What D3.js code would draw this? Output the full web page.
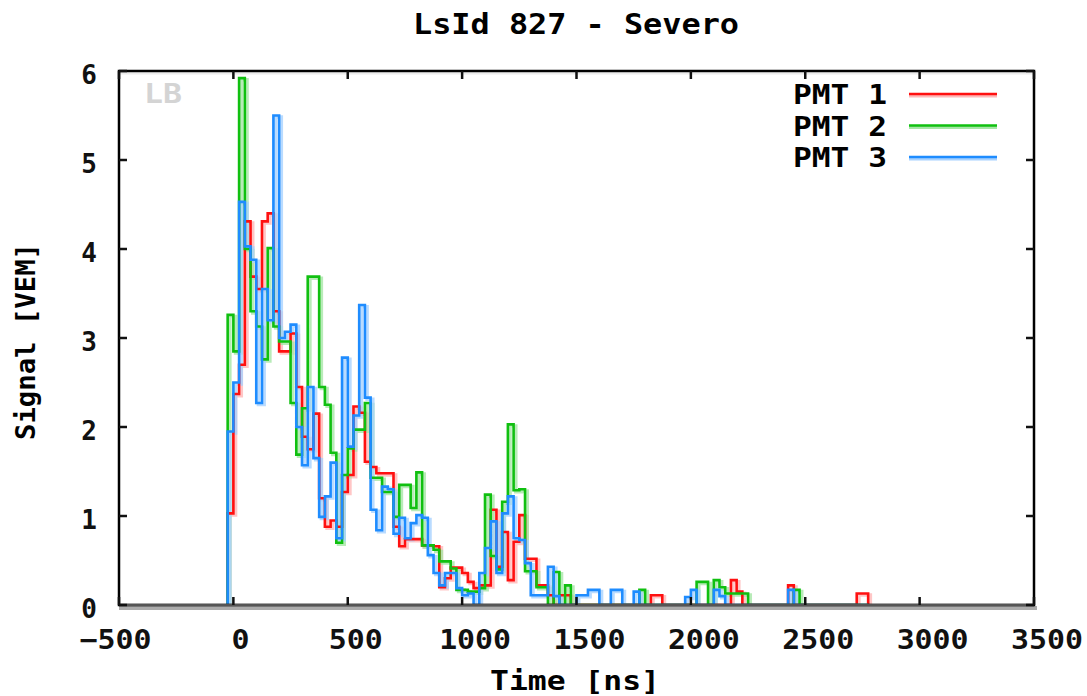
<!DOCTYPE html>
<html>
<head>
<meta charset="utf-8">
<script src="https://cdn.jsdelivr.net/npm/d3@7"></script>
<style>
  body { margin: 0; background: #fff; }
  text { font-family: "DejaVu Sans Mono", "Liberation Mono", monospace; font-weight: bold; }
</style>
</head>
<body>
<svg id="chart" width="1087" height="696"></svg>
<script>
// FADC traces, 25 ns bins starting at -25 ns (signal in VEM)
const binStart = -25;
const binWidth = 25;

const pmt1 = [
  1.03, 2.37, 2.70, 4.31, 3.69, 3.55, 4.31, 4.40, 3.30, 2.85,
  2.85, 3.05, 2.45, 1.89, 1.75, 2.15, 1.20, 0.88, 0.95, 0.88,
  1.27, 1.46, 2.23, 2.16, 1.61, 1.55, 1.48, 1.48, 1.48, 0.88,
  0.66, 0.74, 0.74, 0.74, 0.67, 0.67, 0.66, 0.20, 0.30, 0.42,
  0.42, 0.36, 0.26, 0.19, 0.22, 0.22, 1.07, 0.43, 0.82, 0.28,
  0.71, 1.01, 0.52, 0.52, 0.22, 0.22, 0.11, 0.00, 0.11, 0.11,
  0, 0, 0, 0, 0, 0, 0, 0, 0, 0,
  0, 0, 0, 0, 0.11, 0.11, 0, 0, 0, 0,
  0, 0, 0, 0, 0, 0, 0, 0, 0.28, 0.15,
  0, 0, 0, 0, 0, 0, 0, 0, 0.22, 0,
  0, 0, 0, 0, 0, 0, 0, 0, 0, 0,
  0.13, 0.13
];

const pmt2 = [
  3.26, 2.85, 5.92, 4.00, 3.30, 3.13, 2.76, 4.01, 3.13, 2.96,
  2.96, 2.27, 1.69, 2.21, 3.69, 3.69, 2.45, 2.25, 1.71, 0.70,
  1.46, 1.76, 1.97, 1.97, 2.27, 1.43, 1.43, 1.27, 1.27, 0.99,
  1.35, 1.35, 1.09, 1.49, 0.67, 0.67, 0.62, 0.49, 0.49, 0.41,
  0.17, 0.17, 0.15, 0.15, 0.19, 1.24, 0.55, 0.40, 1.16, 2.03,
  1.29, 1.30, 0.38, 0.38, 0.20, 0.20, 0.00, 0.37, 0.00, 0.22,
  0, 0, 0, 0, 0, 0, 0, 0, 0, 0,
  0, 0, 0.17, 0, 0, 0, 0, 0, 0, 0,
  0, 0, 0.26, 0.26, 0, 0.28, 0.20, 0.13, 0.13, 0.13,
  0.13, 0, 0, 0, 0, 0, 0, 0, 0, 0.17,
  0, 0, 0, 0, 0, 0, 0, 0, 0, 0,
  0, 0
];

const pmt3 = [
  1.95, 2.50, 4.53, 4.03, 3.88, 2.27, 3.55, 3.20, 5.50, 3.00,
  3.07, 3.15, 2.00, 1.57, 2.45, 1.65, 0.99, 1.22, 1.60, 0.75,
  2.78, 1.78, 2.13, 3.37, 2.33, 1.07, 0.84, 1.33, 1.30, 0.80,
  0.98, 0.75, 0.92, 1.01, 0.98, 0.56, 0.36, 0.22, 0.36, 0.36,
  0.19, 0.11, 0.13, 0.00, 0.36, 0.64, 0.94, 0.36, 1.03, 1.22,
  0.75, 0.73, 0.47, 0.11, 0.11, 0.11, 0.43, 0.10, 0.00, 0.00,
  0.00, 0.11, 0.11, 0.17, 0.17, 0.00, 0.00, 0.17, 0.17, 0.00,
  0.00, 0.15, 0, 0, 0, 0, 0, 0, 0, 0,
  0.09, 0.17, 0, 0, 0, 0.17, 0.10, 0, 0, 0,
  0, 0, 0, 0, 0, 0, 0, 0, 0.17, 0,
  0, 0, 0, 0, 0, 0, 0, 0, 0, 0,
  0, 0
];

const seriesNames = ["PMT 1", "PMT 2", "PMT 3"];
const seriesColors = ["#ff1010", "#10c010", "#1e8cff"];
const seriesHalo = ["#ffb8b8", "#a6e6a6", "#a8d2ff"];
const xTicks = [-500, 0, 500, 1000, 1500, 2000, 2500, 3000, 3500];
const yTicks = [0, 1, 2, 3, 4, 5, 6];
const chartTitle = "LsId 827 - Severo";
const xTitle = "Time [ns]";
const yTitle = "Signal [VEM]";
const stationTag = "LB";

const svg = d3.select("#chart");
const x = d3.scaleLinear().domain([-500, 3500]).range([119, 1034]);
const y = d3.scaleLinear().domain([0, 6]).range([605, 71]);

// step path: rise from zero at the first bin edge, fall back to zero after the last
function stepPoints(vals) {
  const pts = [{ t: binStart, v: 0 }];
  vals.forEach((v, i) => pts.push({ t: binStart + i * binWidth, v }));
  pts.push({ t: binStart + vals.length * binWidth, v: 0 });
  return pts;
}
const line = d3.line().x(d => x(d.t)).y(d => y(d.v)).curve(d3.curveStepAfter);
const traces = [pmt1, pmt2, pmt3];

const plot = svg.append("g");
// soft halo beside each trace
traces.forEach((vals, k) => {
  plot.append("path").datum(stepPoints(vals))
    .attr("d", line)
    .attr("fill", "none")
    .attr("stroke", seriesHalo[k])
    .attr("stroke-width", 3.5)
    .attr("stroke-opacity", 0.8)
    .attr("transform", "translate(2.2,1.6)");
});
traces.forEach((vals, k) => {
  plot.append("path").datum(stepPoints(vals))
    .attr("d", line)
    .attr("fill", "none")
    .attr("stroke", seriesColors[k])
    .attr("stroke-width", 2.6)
    .attr("stroke-linejoin", "miter");
});

// frame with grey drop shadow
const x0 = x.range()[0], x1 = x.range()[1], yTop = y.range()[1], yBot = y.range()[0];
svg.append("line").attr("x1", x0).attr("x2", x1 + 3).attr("y1", yBot + 3).attr("y2", yBot + 3)
  .attr("stroke", "#ababab").attr("stroke-width", 4);
svg.append("line").attr("x1", x0).attr("x2", x1).attr("y1", yTop + 2.5).attr("y2", yTop + 2.5)
  .attr("stroke", "#ececec").attr("stroke-width", 2);
svg.append("rect").attr("x", x0).attr("y", yTop).attr("width", x1 - x0).attr("height", yBot - yTop)
  .attr("fill", "none").attr("stroke", "#000").attr("stroke-width", 2.5);
svg.append("line").attr("x1", x0).attr("x2", x1).attr("y1", yBot).attr("y2", yBot)
  .attr("stroke", "#555").attr("stroke-width", 2.5);

// tick labels sit a little right of their ticks, more so for longer labels
function labelShift(t) {
  const s = String(t);
  if (t < 0) return -4;
  return s.length === 1 ? 6.5 : s.length === 3 ? 7.5 : 12.5;
}
const xAxis = d3.axisBottom(x).tickValues(xTicks).tickSize(0).tickFormat(d3.format("d"));
const yAxis = d3.axisLeft(y).tickValues(yTicks).tickSize(0).tickFormat(d3.format("d"));
const gx = svg.append("g").attr("transform", `translate(0,${yBot})`).call(xAxis);
gx.select(".domain").remove();
gx.selectAll("text").attr("dy", null).attr("y", 44).attr("font-size", 26)
  .attr("x", d => labelShift(d))
  .attr("textLength", d => 18 * String(d).length).attr("lengthAdjust", "spacingAndGlyphs")
  .attr("font-family", "DejaVu Sans Mono").attr("font-weight", "bold").attr("fill", "#111");
const gy = svg.append("g").attr("transform", `translate(${x0 - 22},4)`).call(yAxis);
gy.select(".domain").remove();
gy.selectAll("text").attr("dy", "0.32em").attr("x", 0).attr("font-size", 26)
  .attr("font-family", "DejaVu Sans Mono").attr("font-weight", "bold").attr("fill", "#111");

// inward ticks on all four sides
const tickG = svg.append("g").attr("stroke", "#111").attr("stroke-width", 2.5);
xTicks.forEach(t => {
  tickG.append("line").attr("x1", x(t)).attr("x2", x(t)).attr("y1", yBot).attr("y2", yBot - 8);
  tickG.append("line").attr("x1", x(t)).attr("x2", x(t)).attr("y1", yTop).attr("y2", yTop + 8);
});
yTicks.forEach(v => {
  tickG.append("line").attr("x1", x0).attr("x2", x0 + 8).attr("y1", y(v)).attr("y2", y(v));
  tickG.append("line").attr("x1", x1).attr("x2", x1 - 8).attr("y1", y(v)).attr("y2", y(v));
});

// titles
svg.append("text").attr("x", 413).attr("y", 34).attr("font-size", 28)
  .attr("textLength", 326).attr("lengthAdjust", "spacingAndGlyphs").text(chartTitle);
svg.append("text").attr("x", 490).attr("y", 690).attr("font-size", 26)
  .attr("textLength", 170).attr("lengthAdjust", "spacingAndGlyphs").text(xTitle);
svg.append("text").attr("transform", "translate(35,440) rotate(-90)").attr("font-size", 27)
  .attr("textLength", 197).attr("lengthAdjust", "spacingAndGlyphs").text(yTitle);

// station tag
svg.append("text").attr("x", 144).attr("y", 103).attr("font-size", 26)
  .attr("fill", "#d4d4d4").attr("textLength", 38).attr("lengthAdjust", "spacingAndGlyphs").text(stationTag);

// legend
const legend = svg.append("g");
seriesNames.forEach((name, k) => {
  const ly = 94 + k * 31.5;
  legend.append("text").attr("x", 793).attr("y", ly + 10).attr("font-size", 27)
    .attr("textLength", 94).attr("lengthAdjust", "spacingAndGlyphs").text(name);
  legend.append("line").attr("x1", 909).attr("x2", 997).attr("y1", ly + 2).attr("y2", ly + 2)
    .attr("stroke", seriesHalo[k]).attr("stroke-width", 3);
  legend.append("line").attr("x1", 909).attr("x2", 997).attr("y1", ly).attr("y2", ly)
    .attr("stroke", seriesColors[k]).attr("stroke-width", 2.5);
});
</script>
</body>
</html>
